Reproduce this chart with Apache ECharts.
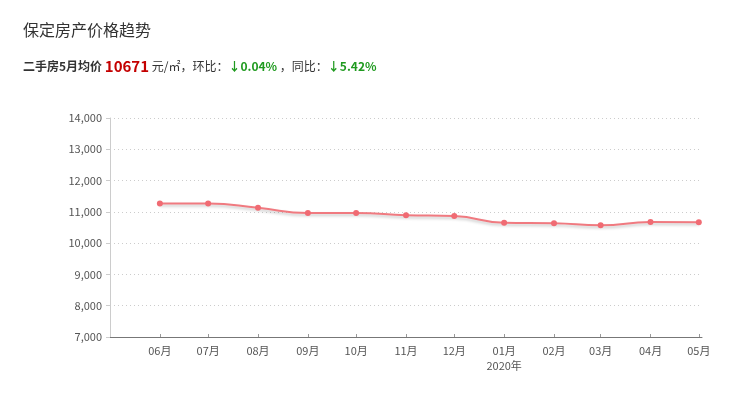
<!DOCTYPE html>
<html><head><meta charset="utf-8">
<script src="https://cdn.jsdelivr.net/npm/echarts@6/dist/echarts.min.js"></script>
<style>html,body{margin:0;padding:0;background:#fff}#c{width:754px;height:415px}</style>
</head><body><div id="c"></div>
<script>
var months = ['2019-06','2019-07','2019-08','2019-09','2019-10','2019-11','2019-12','2020-01','2020-02','2020-03','2020-04','2020-05'];
var prices = [11265, 11265, 11130, 10960, 10960, 10895, 10865, 10650, 10635, 10570, 10675, 10671];
var yTicks = [7000, 8000, 9000, 10000, 11000, 12000, 13000, 14000];
var axisStart = '2019-05-01';
var axisEnd = '2020-05-03';
var titleText = '保定房产价格趋势';
var avgPrice = '10671';
var momChange = '↓0.04%';
var yoyChange = '↓5.42%';

function ts(s){ var p = s.split('-'); return Date.UTC(+p[0], +p[1]-1, p[2] ? +p[2] : 1); }
var monthTs = months.map(ts);
var data = months.map(function(m,i){ return [monthTs[i], prices[i]]; });
var font = '"Noto Sans CJK SC", "Microsoft YaHei", sans-serif';

var chart = echarts.init(document.getElementById('c'), null, {renderer:'canvas'});
chart.setOption({
  animation:false,
  textStyle:{fontFamily:font},
  title:[{
    text: titleText, left: 23, top: 22, padding:0,
    textStyle:{fontSize:16, fontWeight:'normal', color:'#333', fontFamily:font}
  },{
    text: '{b|二手房5月均价 }{r|' + avgPrice + '}{n| 元/㎡，环比：}{g|' + momChange + '}{n| ，同比：}{g|' + yoyChange + '}',
    left: 23, top: 59, padding:0,
    textStyle:{
      fontFamily:font, fontWeight:'normal',
      rich:{
        b:{fontSize:12, fontWeight:'bold', color:'#333', fontFamily:font},
        r:{fontSize:15, fontWeight:'bold', color:'#c40000', fontFamily:font},
        n:{fontSize:12, fontWeight:'normal', color:'#333', fontFamily:font},
        g:{fontSize:12, fontWeight:'bold', color:'#1f9a1f', fontFamily:font}
      }
    }
  }],
  grid:{left:110, right:52, top:118, bottom:78, containLabel:false},
  xAxis:{
    type:'value',
    min: ts(axisStart), max: ts(axisEnd),
    splitLine:{show:false},
    axisLine:{lineStyle:{color:'#777'}},
    axisTick:{show:true, inside:true, length:3, customValues: monthTs, lineStyle:{color:'#999'}},
    axisLabel:{
      customValues: monthTs,
      color:'#555', fontSize:11, fontFamily:font, margin:6, lineHeight:15,
      formatter:function(v){
        var d = new Date(v); var m = d.getUTCMonth()+1;
        var s = (m<10?'0':'') + m + '月';
        if (m === 1) s += '\n' + d.getUTCFullYear() + '年';
        return s;
      }
    }
  },
  yAxis:{
    type:'value', min: yTicks[0], max: yTicks[yTicks.length-1], interval:1000,
    axisLine:{show:true, lineStyle:{color:'#ccc'}},
    axisTick:{show:true, length:4, lineStyle:{color:'#ccc'}},
    axisLabel:{color:'#555', fontSize:11, fontFamily:font, margin:8},
    splitLine:{lineStyle:{color:'#ccc', type:[1,3]}}
  },
  series:[{
    type:'line', data:data, smooth:true,
    symbol:'circle', symbolSize:6,
    itemStyle:{color:'#f06b73'},
    lineStyle:{color:'#f07a80', width:2, shadowColor:'rgba(0,0,0,0.22)', shadowBlur:3, shadowOffsetY:2}
  }]
});
</script></body></html>
